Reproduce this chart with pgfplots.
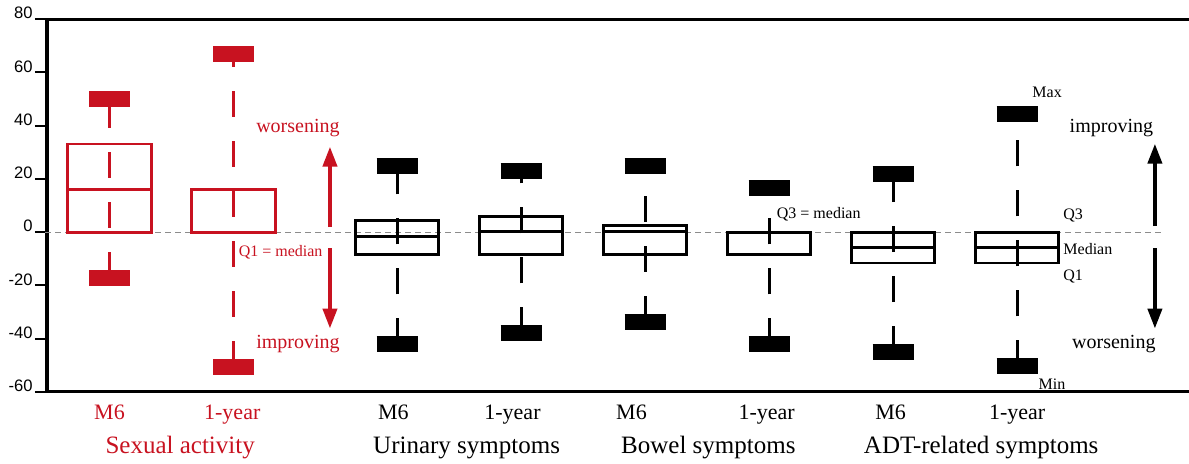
\documentclass[border=0pt]{standalone}
\usepackage{fontspec}
\setmainfont{Liberation Serif}
\newfontfamily\tickfont{Liberation Sans}
\usepackage{pgfplots}
\pgfplotsset{compat=1.18}
\usepgfplotslibrary{statistics}
\usetikzlibrary{arrows.meta}
\definecolor{mred}{RGB}{200,18,32}
\definecolor{zgray}{RGB}{140,140,140}

\pgfplotsset{
  capbox/.style={
    mark=none, line width=1.45pt,
    boxplot/draw direction=y,
    boxplot/box extend=0.673,
    boxplot/whisker extend=0.33,
    boxplot/every box/.style={line width=1.45pt},
    boxplot/every median/.style={line width=1.45pt},
    boxplot/draw/lower whisker/.code={%
      \draw[line width=1.6pt, dash pattern=on 13pt off 12pt]
        (boxplot box cs:\pgfplotsboxplotvalue{lower whisker},0.5) -- (boxplot box cs:\pgfplotsboxplotvalue{upper whisker},0.5);
      \draw[line width=8pt]
        (boxplot whisker cs:\pgfplotsboxplotvalue{lower whisker},0) -- (boxplot whisker cs:\pgfplotsboxplotvalue{lower whisker},1);
    },
    boxplot/draw/upper whisker/.code={%
      \draw[line width=8pt]
        (boxplot whisker cs:\pgfplotsboxplotvalue{upper whisker},0) -- (boxplot whisker cs:\pgfplotsboxplotvalue{upper whisker},1);
    },
  },
}

\begin{document}
\begin{tikzpicture}
\path[use as bounding box] (-23.5pt,-36pt) rectangle (571pt,196pt);
\begin{axis}[
  scale only axis,
  width=571pt, height=186.5pt,
  xmin=0.496, xmax=9.706,
  ymin=-60, ymax=80,
  axis x line*=box,
  axis y line*=left,
  axis line style={line width=1.5pt, black},
  xtick=\empty,
  ytick={-60,-40,-20,0,20,40,60,80},
  tick align=outside,
  major tick length=6pt,
  ytick style={line width=1pt, black},
  /pgf/number format/assume math mode=true,
  yticklabel style={font=\tickfont\fontsize{8.3}{10}\selectfont, anchor=east, yshift=3pt, inner sep=1pt},
  clip=false,
]
% zero reference line
\addplot[zgray, line width=0.6pt, dash pattern=on 3pt off 2pt] coordinates {(0.48,0) (9.496,0)};

% Sexual activity (red)
\addplot[capbox, mred, boxplot prepared={draw position=1, lower whisker=-17.2, lower quartile=0, median=16.1, upper quartile=33.1, upper whisker=49.9}] coordinates {};
\addplot[capbox, mred, boxplot prepared={draw position=2, lower whisker=-50.5, lower quartile=0, median=0, upper quartile=16.1, upper whisker=66.7}] coordinates {};
% Urinary
\addplot[capbox, black, boxplot prepared={draw position=3.32, lower whisker=-42.1, lower quartile=-8.4, median=-1.5, upper quartile=4.4, upper whisker=25.0}] coordinates {};
\addplot[capbox, black, boxplot prepared={draw position=4.32, lower whisker=-38.0, lower quartile=-8.4, median=0.4, upper quartile=6.0, upper whisker=22.8}] coordinates {};
% Bowel
\addplot[capbox, black, boxplot prepared={draw position=5.32, lower whisker=-33.7, lower quartile=-8.4, median=0.4, upper quartile=2.6, upper whisker=25.0}] coordinates {};
\addplot[capbox, black, boxplot prepared={draw position=6.32, lower whisker=-42.1, lower quartile=-8.4, median=0, upper quartile=0, upper whisker=16.6}] coordinates {};
% ADT
\addplot[capbox, black, boxplot prepared={draw position=7.32, lower whisker=-45.0, lower quartile=-11.6, median=-5.7, upper quartile=0, upper whisker=21.9}] coordinates {};
\addplot[capbox, black, boxplot prepared={draw position=8.32, lower whisker=-50.4, lower quartile=-11.6, median=-5.7, upper quartile=0, upper whisker=44.4}] coordinates {};

% arrows
\draw[mred, line width=2pt, -{Triangle[width=7pt,length=10pt]}] (axis cs:2.778,1.9) -- (axis cs:2.778,32.1);
\draw[mred, line width=2pt, -{Triangle[width=7pt,length=10pt]}] (axis cs:2.778,-6.0) -- (axis cs:2.778,-36.2);
\draw[black, line width=2pt, -{Triangle[width=7pt,length=10pt]}] (axis cs:9.431,2.3) -- (axis cs:9.431,33.2);
\draw[black, line width=2pt, -{Triangle[width=7pt,length=10pt]}] (axis cs:9.431,-6.0) -- (axis cs:9.431,-36.2);

% annotations
\node[mred, font=\fontsize{10}{12}\selectfont] at (axis cs:2.52,38.9) {worsening};
\node[mred, font=\fontsize{10}{12}\selectfont] at (axis cs:2.52,-41.9) {improving};
\node[mred, font=\fontsize{8}{10}\selectfont] at (axis cs:2.38,-7.5) {Q1 = median};
\node[black, font=\fontsize{8}{10}\selectfont] at (axis cs:6.72,6.8) {Q3 = median};
\node[black, font=\fontsize{10}{12}\selectfont] at (axis cs:9.08,39.2) {improving};
\node[black, font=\fontsize{10}{12}\selectfont] at (axis cs:9.10,-41.9) {worsening};
\node[black, anchor=west, inner sep=0pt, font=\fontsize{8}{10}\selectfont] at (axis cs:8.44,52.5) {Max};
\node[black, anchor=west, inner sep=0pt, font=\fontsize{8}{10}\selectfont] at (axis cs:8.49,-57.0) {Min};
\node[black, anchor=west, inner sep=0pt, font=\fontsize{8}{10}\selectfont] at (axis cs:8.69,6.4) {Q3};
\node[black, anchor=west, inner sep=0pt, font=\fontsize{8}{10}\selectfont] at (axis cs:8.69,-6.4) {Median};
\node[black, anchor=west, inner sep=0pt, font=\fontsize{8}{10}\selectfont] at (axis cs:8.69,-16.6) {Q1};

% category labels
\node[mred, anchor=base, font=\fontsize{11}{13}\selectfont] at ([yshift=-13.7pt]axis cs:1.0,-60) {M6};
\node[mred, anchor=base, font=\fontsize{11}{13}\selectfont] at ([yshift=-13.7pt]axis cs:1.99,-60) {1-year};
\node[black, anchor=base, font=\fontsize{11}{13}\selectfont] at ([yshift=-13.7pt]axis cs:3.29,-60) {M6};
\node[black, anchor=base, font=\fontsize{11}{13}\selectfont] at ([yshift=-13.7pt]axis cs:4.25,-60) {1-year};
\node[black, anchor=base, font=\fontsize{11}{13}\selectfont] at ([yshift=-13.7pt]axis cs:5.21,-60) {M6};
\node[black, anchor=base, font=\fontsize{11}{13}\selectfont] at ([yshift=-13.7pt]axis cs:6.30,-60) {1-year};
\node[black, anchor=base, font=\fontsize{11}{13}\selectfont] at ([yshift=-13.7pt]axis cs:7.30,-60) {M6};
\node[black, anchor=base, font=\fontsize{11}{13}\selectfont] at ([yshift=-13.7pt]axis cs:8.32,-60) {1-year};
\node[mred, anchor=base, font=\fontsize{12.5}{15}\selectfont] at ([yshift=-31pt]axis cs:1.57,-60) {Sexual activity};
\node[black, anchor=base, font=\fontsize{12.5}{15}\selectfont] at ([yshift=-31pt]axis cs:3.88,-60) {Urinary symptoms};
\node[black, anchor=base, font=\fontsize{12.5}{15}\selectfont] at ([yshift=-31pt]axis cs:5.83,-60) {Bowel symptoms};
\node[black, anchor=base, font=\fontsize{12.5}{15}\selectfont] at ([yshift=-31pt]axis cs:8.03,-60) {ADT-related symptoms};
\end{axis}
\end{tikzpicture}
\end{document}
